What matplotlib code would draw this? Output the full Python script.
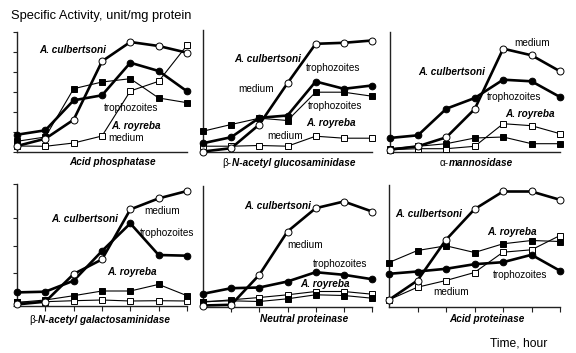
import matplotlib
matplotlib.use("Agg")
import matplotlib.pyplot as plt

plt.rcParams['font.family'] = ['Liberation Sans', 'DejaVu Sans']

W, H = 576, 353
time_points = [0, 1, 2, 3, 4, 5, 6]

# values: activity (arbitrary units)
acp_cul_tro = [17.3, 21.7, 51.7, 56.7, 89.3, 81.0, 60.7]
acp_cul_med = [6.0, 13.3, 32.3, 90.7, 110.0, 106.0, 99.3]
acp_roy_tro = [10.7, 15.0, 63.3, 70.0, 73.3, 54.0, 49.3]
acp_roy_med = [6.0, 5.7, 9.0, 16.0, 61.0, 70.7, 106.7]

glu_cul_tro = [8.3, 14.3, 33.7, 36.0, 70.0, 62.7, 66.0]
glu_cul_med = [0.0, 3.3, 27.0, 68.3, 107.7, 108.7, 111.0]
glu_roy_tro = [20.3, 27.0, 33.3, 31.0, 59.3, 59.3, 55.3]
glu_roy_med = [5.3, 5.3, 6.0, 5.3, 15.3, 13.3, 13.3]

man_cul_tro = [14.0, 16.7, 43.3, 54.0, 72.3, 70.7, 55.0]
man_cul_med = [2.3, 5.7, 14.7, 43.0, 103.3, 96.7, 80.7]
man_roy_tro = [3.3, 5.7, 8.3, 14.0, 15.0, 8.3, 8.3]
man_roy_med = [2.3, 3.3, 3.3, 5.7, 28.3, 26.3, 18.3]

gal_cul_tro = [13.3, 14.0, 25.0, 54.7, 82.3, 50.7, 50.0]
gal_cul_med = [1.3, 4.0, 31.7, 46.3, 96.3, 107.3, 114.7]
gal_roy_tro = [3.3, 5.7, 10.0, 14.7, 14.7, 21.3, 10.0]
gal_roy_med = [3.3, 4.0, 5.0, 5.7, 4.7, 5.0, 4.7]

neu_cul_tro = [12.7, 18.3, 19.0, 25.0, 34.3, 31.7, 27.3]
neu_cul_med = [1.0, 1.7, 31.7, 75.0, 98.3, 105.0, 95.0]
neu_roy_tro = [5.0, 5.7, 5.0, 7.7, 11.7, 11.0, 8.3]
neu_roy_med = [4.3, 6.7, 9.0, 11.7, 15.0, 15.0, 12.3]

apr_cul_tro = [32.7, 35.0, 37.7, 42.3, 44.3, 51.7, 35.7]
apr_cul_med = [6.7, 26.0, 66.7, 97.3, 115.0, 115.0, 106.7]
apr_roy_tro = [44.0, 56.0, 60.7, 54.0, 62.7, 66.0, 65.0]
apr_roy_med = [6.7, 19.3, 26.0, 34.0, 54.3, 56.7, 71.0]

panel_greek = ["", "β-", "α-", "β-", "", ""]
panel_names = ["Acid phosphatase", "N-acetyl glucosaminidase", "mannosidase",
               "N-acetyl galactosaminidase", "Neutral proteinase", "Acid proteinase"]

panels_data = [
    (acp_cul_tro, acp_cul_med, acp_roy_tro, acp_roy_med),
    (glu_cul_tro, glu_cul_med, glu_roy_tro, glu_roy_med),
    (man_cul_tro, man_cul_med, man_roy_tro, man_roy_med),
    (gal_cul_tro, gal_cul_med, gal_roy_tro, gal_roy_med),
    (neu_cul_tro, neu_cul_med, neu_roy_tro, neu_roy_med),
    (apr_cul_tro, apr_cul_med, apr_roy_tro, apr_roy_med),
]

# axes boxes in pixels: x0, x1, ytop, ybottom
boxes = [
    (17, 187, 31.5, 152),
    (203, 372, 30, 151.5),
    (389.5, 560, 31.5, 152),
    (17, 187, 184, 305.7),
    (203, 372, 186, 306.5),
    (389, 560, 185, 306.5),
]

# label centers (pixels)
label_pos = [(113, 162), (289, 163), (477, 163), (100, 320), (304, 319), (487, 319)]

annots = [
    [("A. culbertsoni", 73, 50, True), ("trophozoites", 131, 108, False),
     ("A. royreba", 136, 126, True), ("medium", 126, 138, False)],
    [("A. culbertsoni", 268, 59, True), ("trophozoites", 333, 68, False),
     ("medium", 256, 89, False), ("trophozoites", 335, 106, False),
     ("A. royreba", 331, 123, True), ("medium", 285, 136, False)],
    [("medium", 532, 43, False), ("A. culbertsoni", 452, 72, True),
     ("trophozoites", 514, 97, False), ("A. royreba", 530, 114, True)],
    [("medium", 162, 211, False), ("A. culbertsoni", 85, 219, True),
     ("trophozoites", 167, 233, False), ("A. royreba", 132, 272, True)],
    [("A. culbertsoni", 278, 206, True), ("medium", 305, 245, False),
     ("trophozoites", 340, 264, False), ("A. royreba", 325, 284, True)],
    [("A. culbertsoni", 429, 214, True), ("A. royreba", 512, 232, True),
     ("trophozoites", 520, 275, False), ("medium", 451, 292, False)],
]

fig = plt.figure(figsize=(W / 100, H / 100), dpi=100)
fig.patch.set_facecolor('white')

def fx(x):
    return x / W

def fy(y):
    return 1 - y / H

thick = 1.9
thin = 0.8
spine_c = '#222222'
fs = 7.2

for i, (box, data) in enumerate(zip(boxes, panels_data)):
    x0, x1, yt, yb = box
    ax = fig.add_axes([fx(x0), fy(yb), (x1 - x0) / W, (yb - yt) / H])
    ax.set_xlim(0, 6)
    ax.set_ylim(0, yb - yt)
    cul_tro, cul_med, roy_tro, roy_med = data
    ax.plot(time_points, roy_med, color='black', lw=thin, marker='s', ms=4.2,
            mfc='white', mec='black', mew=0.7, clip_on=False, zorder=3)
    ax.plot(time_points, roy_tro, color='black', lw=thin, marker='s', ms=4.2,
            mfc='black', mec='black', mew=0.7, clip_on=False, zorder=3)
    ax.plot(time_points, cul_tro, color='black', lw=thick, marker='o', ms=4.8,
            mfc='black', mec='black', mew=0.7, clip_on=False, zorder=4)
    ax.plot(time_points, cul_med, color='black', lw=thick, marker='o', ms=5.0,
            mfc='white', mec='black', mew=0.7, clip_on=False, zorder=4)
    for s in ['top', 'right']:
        ax.spines[s].set_visible(False)
    for s in ['left', 'bottom']:
        ax.spines[s].set_linewidth(1.0)
        ax.spines[s].set_color(spine_c)
    ax.set_facecolor('none')
    if i == 0:
        ax.set_yticks([0, 20, 40, 60, 80, 100, 120])
        ax.tick_params(axis='y', direction='out', length=3, width=0.8, colors=spine_c)
    elif i == 3:
        ax.set_yticks([0, 33, 60, 88, 121.7])
        ax.tick_params(axis='y', direction='out', length=3, width=0.8, colors=spine_c)
    else:
        ax.set_yticks([])
    if i >= 3:
        ax.set_xticks([1, 2, 3, 4, 5, 6])
        ax.tick_params(axis='x', direction='out', length=3.5, width=0.8, colors=spine_c)
    else:
        ax.set_xticks([])
    ax.set_xticklabels([])
    ax.set_yticklabels([])

    # panel label
    lx, ly = label_pos[i]
    greek = panel_greek[i]
    name = panel_names[i]
    if greek:
        t = fig.text(fx(lx), fy(ly), greek + name, fontsize=fs, fontweight='bold',
                     fontstyle='italic', ha='center', va='center', alpha=0)
        fig.canvas.draw()
        bb = t.get_window_extent()
        t0 = fig.text(bb.x0 / W, fy(ly), greek, fontsize=fs, ha='left', va='center')
        fig.canvas.draw()
        bb0 = t0.get_window_extent()
        fig.text(bb0.x1 / W, fy(ly), name, fontsize=fs, fontweight='bold',
                 fontstyle='italic', ha='left', va='center')
    else:
        fig.text(fx(lx), fy(ly), name, fontsize=fs, fontweight='bold',
                 fontstyle='italic', ha='center', va='center')

    for (txt, tx, ty, bold) in annots[i]:
        if bold:
            fig.text(fx(tx), fy(ty), txt, fontsize=fs, fontweight='bold',
                     fontstyle='italic', ha='center', va='center')
        else:
            fig.text(fx(tx), fy(ty), txt, fontsize=fs, ha='center', va='center')

fig.text(fx(11), fy(16), "Specific Activity, unit/mg protein", fontsize=9.3,
         ha='left', va='center')
fig.text(fx(519), fy(343), "Time, hour", fontsize=8.7, ha='center', va='center')

fig.savefig("out.png", dpi=100, facecolor='white')
